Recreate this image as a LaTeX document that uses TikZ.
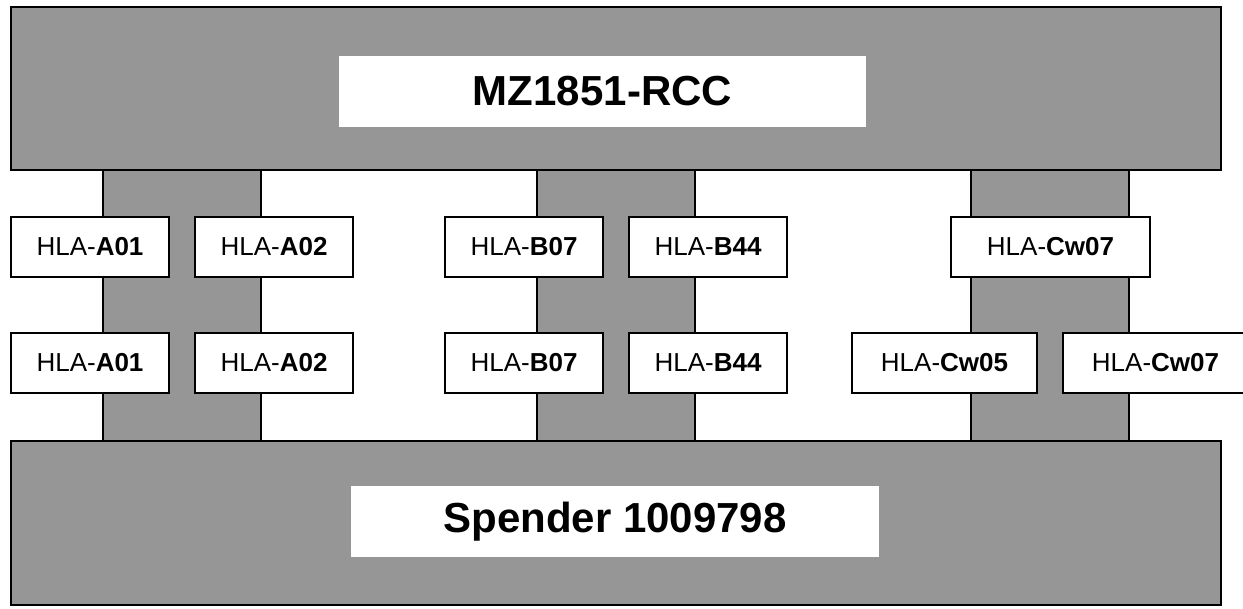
\documentclass[tikz,border=0pt]{standalone}
\usepackage{fontspec}
\setmainfont{Liberation Sans}
\definecolor{plategray}{RGB}{150,150,150}
\tikzstyle{plate}=[rectangle, draw, fill=plategray, line width=1.2pt, inner sep=0pt]
\tikzstyle{tag}=[rectangle, fill=white, inner sep=0pt, font=\bfseries\fontsize{21}{25}\selectfont]
\tikzstyle{hla}=[rectangle, draw, fill=white, line width=1pt, inner sep=0pt, minimum height=30pt, font=\fontsize{13}{15}\selectfont]
\tikzstyle{column}=[draw, fill=plategray, line width=1pt]

\begin{document}
\begin{tikzpicture}[x=0.5pt, y=-0.5pt]
    \clip (0,0) rectangle (1243,609);
    \fill[white] (0,0) rectangle (1243,609);
    \draw[column] (103,170) rectangle (261,441);
    \draw[column] (537,170) rectangle (695,441);
    \draw[column] (971,170) rectangle (1129,441);
    \node[plate, minimum width=605pt, minimum height=81.5pt] (rcc) at (616,88.5) {};
    \node[plate, minimum width=605pt, minimum height=82pt] (donor) at (616,523) {};
    \node[tag, minimum width=263.5pt, minimum height=35.5pt] (rcclabel) at (602.5,91.5) {MZ1851-RCC};
    \node[tag, minimum width=264pt, minimum height=35.5pt] (donorlabel) at (615,521.5) {Spender 1009798};
    \node[hla, minimum width=79pt] (a1) at (90,247) {HLA-\textbf{A01}};
    \node[hla, minimum width=79pt] (a2) at (274,247) {HLA-\textbf{A02}};
    \node[hla, minimum width=79pt] (b1) at (524,247) {HLA-\textbf{B07}};
    \node[hla, minimum width=79pt] (b2) at (708,247) {HLA-\textbf{B44}};
    \node[hla, minimum width=99.5pt] (c1) at (1050.5,247) {HLA-\textbf{Cw07}};
    \node[hla, minimum width=79pt] (a3) at (90,363) {HLA-\textbf{A01}};
    \node[hla, minimum width=79pt] (a4) at (274,363) {HLA-\textbf{A02}};
    \node[hla, minimum width=79pt] (b3) at (524,363) {HLA-\textbf{B07}};
    \node[hla, minimum width=79pt] (b4) at (708,363) {HLA-\textbf{B44}};
    \node[hla, minimum width=92.5pt] (c2) at (944.5,363) {HLA-\textbf{Cw05}};
    \node[hla, minimum width=92.5pt] (c3) at (1155.5,363) {HLA-\textbf{Cw07}};
\end{tikzpicture}
\end{document}
